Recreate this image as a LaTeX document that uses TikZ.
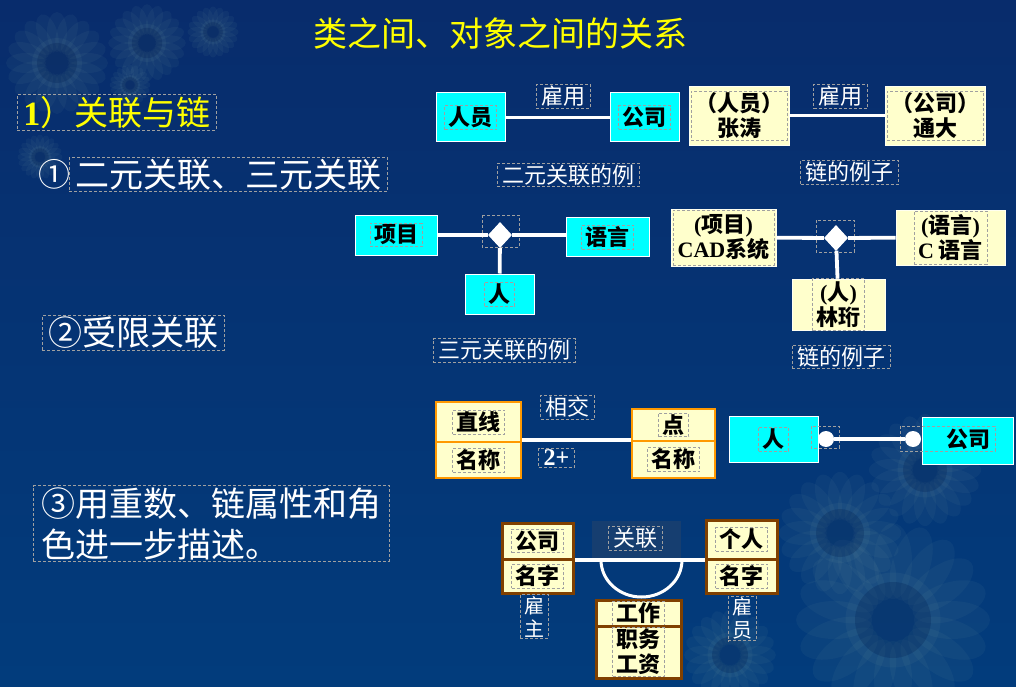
\documentclass[tikz,border=0pt]{standalone}
\usepackage{fontspec}
\setmainfont{Liberation Serif}
\newfontfamily\cjk{Noto Sans CJK SC}
\usetikzlibrary{shapes.geometric}
\definecolor{bgtop}{RGB}{8,44,108}
\definecolor{bgbot}{RGB}{2,60,124}
\definecolor{cyanc}{RGB}{0,255,255}
\definecolor{objy}{RGB}{255,255,204}
\definecolor{orng}{RGB}{255,153,0}
\definecolor{brwn}{RGB}{128,64,0}
\definecolor{dashg}{RGB}{160,160,160}
\definecolor{titley}{RGB}{255,255,0}
\definecolor{assocbg}{RGB}{22,62,112}
\definecolor{petal}{RGB}{120,160,165}
\definecolor{flc}{RGB}{0,30,80}
\newcommand\latn[1]{{\rmfamily\bfseries #1}}
\newcommand\mkbox[8][]{%
  \node[#3, minimum width=#6pt, minimum height=#7pt] (#2) at (#4,#5) {};
  \node[boxtext,#1] (#2t) at (#2) {#8};}
\tikzset{
  sunflower/.pic={
    \foreach \a in {0,18,...,342}{\fill[petal,opacity=0.07,rotate=\a] (0.62,0) ellipse[x radius=0.4,y radius=0.2];}
    \fill[petal, opacity=0.08] (0,0) circle[radius=0.5];
    \fill[flc, opacity=0.25] (0,0) circle[radius=0.4];
  },
  tfl/.style={draw=dashg, dash pattern=on 3pt off 2pt, line width=0.8pt},
  tf/.style={tfl, inner xsep=4pt, inner ysep=1.5pt},
  boxtext/.style={tf, text=black, font=\cjk\bfseries\fontsize{22}{25}\selectfont, align=center},
  cls/.style={fill=cyanc, draw=white, line width=1pt, inner sep=0},
  obj/.style={fill=objy, draw=white!70!objy, line width=0.6pt, inner sep=0},
  umlo/.style={fill=objy, draw=orng, line width=2.5pt, inner sep=0},
  umlb/.style={fill=objy, draw=brwn, line width=3pt, inner sep=0},
  lbl/.style={tf, text=white, font=\cjk\fontsize{22}{25}\selectfont, inner xsep=5pt},
  head/.style={tf, text=white, font=\cjk\fontsize{34}{41}\selectfont, inner xsep=6pt, inner ysep=1.5pt, align=left, anchor=west},
  conn/.style={draw=white, line width=3.8pt},
  dia/.style={diamond, fill=white, inner sep=0, minimum width=24pt, minimum height=26pt},
  dot/.style={circle, fill=white, minimum size=16pt, inner sep=0},
}
\begin{document}
\begin{tikzpicture}[x=1pt,y=-1pt]
\useasboundingbox (0,0) rectangle (1016,687);
\shade[top color=bgtop, bottom color=bgbot] (0,0) rectangle (1016,687);
% sunflowers (background decoration)
\pic[scale=50] at (57,63) {sunflower};
\pic[scale=38] at (147,43) {sunflower};
\pic[scale=25] at (213,32) {sunflower};
\pic[scale=22] at (40,157) {sunflower};
\pic[scale=20] at (130,85) {sunflower};
\pic[scale=95] at (893,620) {sunflower};
\pic[scale=60] at (840,533) {sunflower};
\pic[scale=55] at (925,470) {sunflower};
\pic[scale=45] at (730,655) {sunflower};

% title
\node[font=\cjk\fontsize{34}{37}\selectfont, text=titley, inner sep=0] (title) at (500,33) {类之间、对象之间的关系};

% left column
\node[head, text=titley] (h1) at (17,112.5) {\latn{1}）关联与链};
\node[text=white, font=\cjk\fontsize{32}{34}\selectfont, inner sep=0] (n1) at (54,174) {①};
\node[head] (h2) at (69,174.5) {二元关联、三元关联};
\node[head] (h3) at (42,333) {②受限关联};
\node[head, inner xsep=8pt] (h4) at (33,523.5) {③用重数、链属性和角\\色进一步描述。};

% binary association
\mkbox{ry}{cls}{470.5}{117.5}{69}{49}{人员}
\mkbox{gs}{cls}{644.5}{117.5}{69}{49}{公司}
\draw[conn] (ry) -- (gs);
\node[lbl] (gy1) at (563,96.5) {雇用};
\mkbox[minimum width=96pt]{zt}{obj}{739}{115.5}{100}{59}{（人员）\\张涛}
\mkbox[minimum width=96pt]{td}{obj}{935}{115.5}{100}{59}{（公司）\\通大}
\draw[conn] (zt) -- (td);
\node[lbl] (gy2) at (840.5,96.5) {雇用};
\node[lbl] (ex1) at (568,175) {二元关联的例};
\node[lbl] (ex2) at (849.5,172.5) {链的例子};

% ternary association
\mkbox{xm}{cls}{396}{235}{82}{40}{项目}
\mkbox{yy}{cls}{607.5}{237}{83}{39}{语言}
\mkbox{rr}{cls}{499.5}{294}{69}{40}{人}
\draw[tfl] (482,215) rectangle (519,247);
\node[dia] (dm) at (500,235) {};
\draw[conn] (xm) -- (dm);
\draw[conn] (dm.east) -- (dm.east -| yy.west);
\draw[conn] (dm) -- (rr);
\node[lbl] (ex3) at (504,350.5) {三元关联的例};

\mkbox[minimum width=101pt, minimum height=55pt]{cad}{obj}{723.5}{237.5}{105}{57}{\latn{(}项目\latn{)}\\\latn{CAD}系统}
\mkbox[minimum height=53pt]{cy}{obj}{950.5}{237.5}{109}{55}{\latn{(}语言\latn{)}\\\latn{C} 语言}
\mkbox[minimum height=52pt]{lh}{obj}{838.5}{304.5}{93}{51}{\latn{(}人\latn{)}\\林珩}
\draw[tfl] (816,220) rectangle (854,252);
\node[dia] (dm2) at (836,238) {};
\draw[conn] (cad) -- (dm2);
\draw[conn] (dm2) -- (cy);
\draw[conn] (dm2) -- (lh);
\node[lbl] (ex4) at (841,357) {链的例子};

% qualified association
\draw[conn] (478.5,440) -- (673.5,440);
\mkbox{zxa}{umlo}{478.5}{422}{85}{40}{直线}
\mkbox{zxb}{umlo}{478.5}{460}{85}{36}{名称}
\mkbox{dda}{umlo}{673.5}{425}{83}{32}{点}
\mkbox{ddb}{umlo}{673.5}{459.5}{83}{37}{名称}
\node[lbl] (xj) at (567.5,407.5) {相交};
\node[lbl, font=\rmfamily\bfseries\fontsize{24}{26}\selectfont] (tp) at (556.5,457.5) {2+};

% person - company with dots
\mkbox{pp}{cls}{773.5}{439}{89}{46}{人}
\node[cls, minimum width=91pt, minimum height=47pt] (gs3) at (967.5,440.5) {};
\node[text=black, font=\cjk\bfseries\fontsize{22}{25}\selectfont, inner sep=0] (gs3t) at (968,439) {公司};
\draw[tfl] (811,426) rectangle (839,448);
\draw[tfl] (900,426) rectangle (995,451);
\node[dot] (c1) at (826,439) {};
\node[dot] (c2) at (913,439) {};
\draw[conn] (c1) -- (c2);

% link attribute with roles
\fill[assocbg] (592,521) rectangle (681,558);
\node[lbl] (gl) at (635.5,538.5) {关联};
\draw[conn] (537.5,560) -- (741.5,560);
\draw[white, line width=3pt] (601,560) arc[start angle=180, end angle=0, x radius=40.5, y radius=37];
\mkbox{gsa}{umlb}{537.5}{541}{71}{36}{公司}
\mkbox{gsb}{umlb}{537.5}{576}{71}{34}{名字}
\mkbox{gra}{umlb}{741.5}{539.5}{71}{39}{个人}
\mkbox{grb}{umlb}{741.5}{576}{71}{34}{名字}
\mkbox{gza}{umlb}{638.5}{613}{85}{26}{工作}
\mkbox{gzb}{umlb}{638.5}{652}{85}{52}{职务\\工资}
\node[lbl, align=center, font=\cjk\fontsize{20}{23}\selectfont, inner xsep=4pt] (rz) at (534,616.5) {雇\\主};
\node[lbl, align=center, font=\cjk\fontsize{20}{23}\selectfont, inner xsep=4pt] (ryy) at (742,618.5) {雇\\员};
\end{tikzpicture}
\end{document}
